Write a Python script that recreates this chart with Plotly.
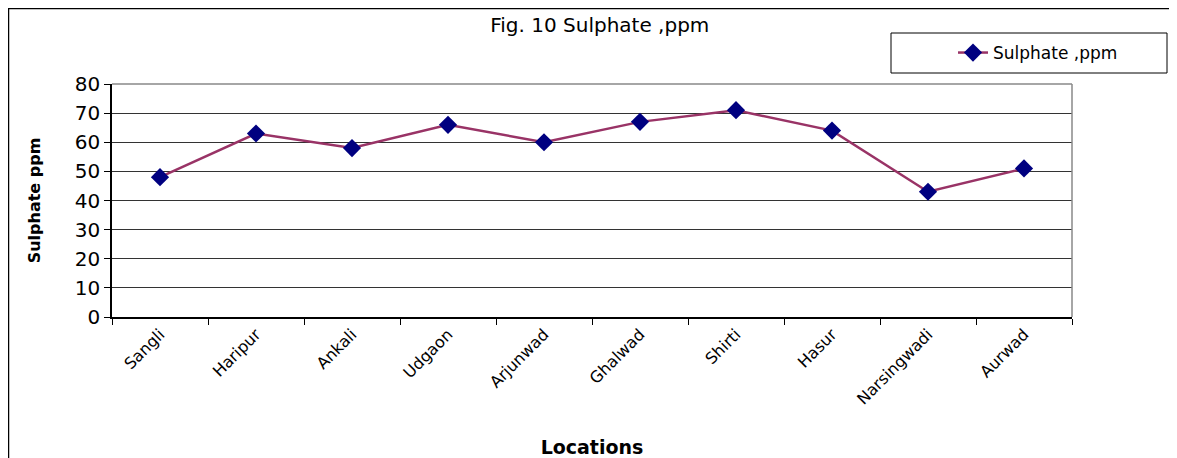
import plotly.graph_objects as go

locations = ["Sangli", "Haripur", "Ankali", "Udgaon", "Arjunwad",
             "Ghalwad", "Shirti", "Hasur", "Narsingwadi", "Aurwad"]
sulphate = [48, 63, 58, 66, 60, 67, 71, 64, 43, 51]

# page body has an 8px margin, so the figure is a bit smaller than the window
W, H = 1169, 450
L, R, T, B = 104, 105, 76, 141
pw, ph = W - L - R, H - T - B
FONT = "DejaVu Sans, Arial"


def px(x):
    return (x - L) / pw


def py(y):
    return (H - B - y) / ph


fig = go.Figure()
fig.add_trace(go.Scatter(
    x=locations, y=sulphate,
    mode="lines+markers",
    name="Sulphate ,ppm",
    line=dict(color="#993366", width=2.5),
    marker=dict(symbol="diamond", size=14, color="#000080"),
))

# outer chart frame
fig.add_shape(type="rect", xref="paper", yref="paper",
              x0=px(0.5), x1=px(1200), y0=py(0.5), y1=py(480),
              line=dict(color="black", width=1.5))
# legend box
fig.add_shape(type="rect", xref="paper", yref="paper",
              x0=px(883), x1=px(1159), y0=py(25), y1=py(65),
              line=dict(color="black", width=1))

fig.update_layout(
    width=W, height=H,
    margin=dict(l=L, r=R, t=T, b=B, autoexpand=False),
    paper_bgcolor="white", plot_bgcolor="white",
    font=dict(family=FONT, color="black", size=16),
    title=dict(text="Fig. 10 Sulphate ,ppm", x=px(590), xanchor="center",
               y=1 - 17 / H, yanchor="middle", font=dict(size=20)),
    showlegend=True,
    legend=dict(x=px(945), y=py(45), xanchor="left", yanchor="middle",
                bgcolor="rgba(0,0,0,0)", font=dict(size=17)),
    xaxis=dict(
        title=dict(text="<b>Locations</b>", font=dict(size=19), standoff=34),
        tickangle=-45, tickfont=dict(size=16), automargin=False,
        showline=True, linecolor="black", linewidth=1.5,
        ticks="outside", tickson="boundaries", ticklen=6, tickcolor="black",
        showgrid=False,
        range=[-0.5, 9.5],
    ),
    yaxis=dict(
        title=dict(text="<b>Sulphate ppm</b>", font=dict(size=16), standoff=30),
        range=[0, 80], dtick=10, tickfont=dict(size=20), automargin=False,
        showline=True, linecolor="black", linewidth=1.5,
        ticks="outside", ticklen=6, tickcolor="black",
        showgrid=True, gridcolor="#333333", gridwidth=1,
        zeroline=False,
    ),
)

# plot-area frame on top and right (gray)
fig.add_shape(type="line", xref="paper", yref="paper", x0=0, x1=1, y0=1, y1=1,
              line=dict(color="#888888", width=1.5))
fig.add_shape(type="line", xref="paper", yref="paper", x0=1, x1=1, y0=0, y1=1,
              line=dict(color="#888888", width=1.5))

fig.write_html("out.html")
